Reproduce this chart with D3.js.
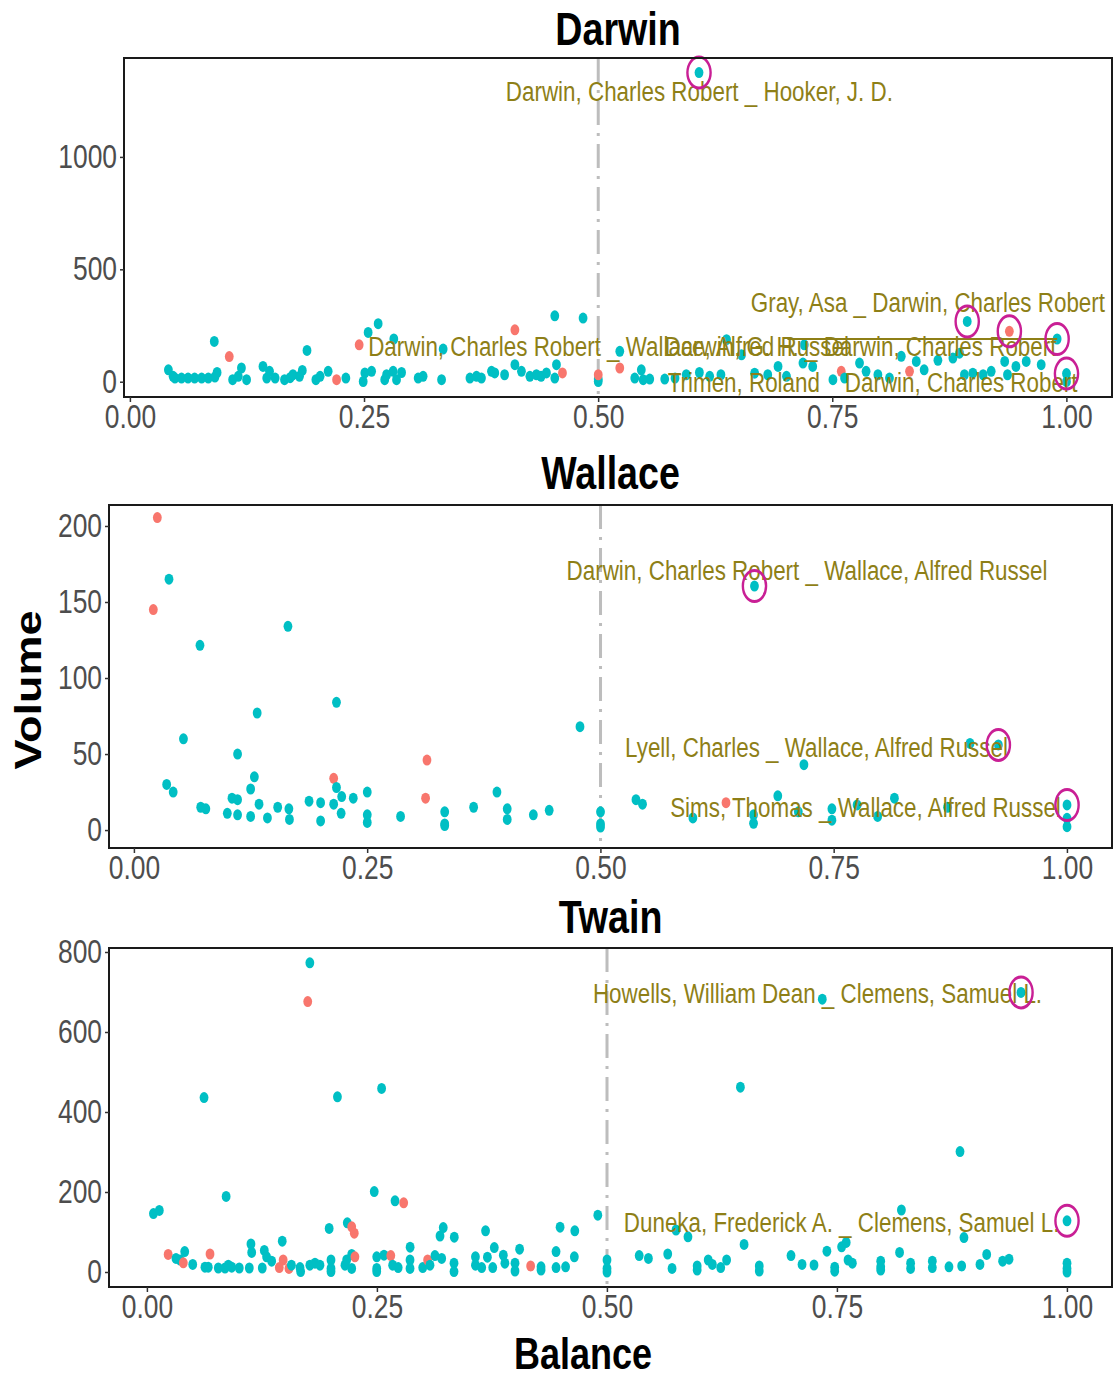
<!DOCTYPE html>
<html>
<head>
<meta charset="utf-8">
<script src="https://cdn.jsdelivr.net/npm/d3@7"></script>
<style>
  body { margin: 0; background: #ffffff; }
  svg { display: block; }
  text { font-family: "Liberation Sans", Arial, Helvetica, sans-serif; }
</style>
</head>
<body>
<svg id="chart" width="1117" height="1380"></svg>
<script>
// ---- data: [balance, volume, flag] (flag true = teal series, false = red series)
const darwinPoints = [
  [0.041,53,true],[0.046,24,true],[0.048,16,true],[0.055,16,true],[0.062,16,true],[0.069,16,true],
  [0.0765,16,true],[0.0836,16,true],[0.0907,21,true],[0.093,41,true],[0.090,179,true],[0.106,112,false],
  [0.1096,9,true],[0.1156,24,true],[0.119,61,true],[0.1245,9,true],[0.142,68,true],[0.146,16,true],
  [0.149,46,true],[0.155,16,true],[0.165,9,true],[0.171,18,true],[0.174,31,true],[0.181,24,true],
  [0.184,50,true],[0.189,139,true],[0.1985,9,true],[0.203,24,true],[0.2116,46,true],[0.2206,9,false],
  [0.2305,16,true],[0.2447,164,false],[0.249,1,true],[0.2508,39,true],[0.258,46,true],[0.2543,219,true],
  [0.265,258,true],[0.2817,190,true],[0.272,9,true],[0.274,31,true],[0.281,46,true],[0.2846,9,true],
  [0.29,41,true],[0.3077,16,true],[0.313,24,true],[0.3327,9,true],[0.3344,145,true],[0.363,16,true],
  [0.37,24,true],[0.3753,16,true],[0.386,46,true],[0.3895,39,true],[0.400,31,true],[0.411,76,true],
  [0.411,231,false],[0.418,46,true],[0.427,24,true],[0.434,31,true],[0.439,24,true],[0.4447,39,true],
  [0.4536,16,true],[0.4554,76,true],[0.4536,293,true],[0.4618,39,false],[0.4838,283,true],[0.5,1,true],
  [0.5,12,true],[0.5,31,false],[0.523,135,true],[0.523,61,false],[0.539,16,true],[0.546,53,true],
  [0.548,9,true],[0.555,12,true],[0.571,12,true],[0.582,16,true],[0.594,31,true],[0.6076,1375,true],
  [0.608,41,true],[0.619,24,true],[0.631,31,true],[0.637,187,true],[0.653,120,true],[0.667,38,true],
  [0.681,31,true],[0.692,68,true],[0.701,24,true],[0.7186,83,true],[0.72,164,true],[0.729,68,true],
  [0.7506,9,true],[0.7595,46,false],[0.763,16,true],[0.779,83,true],[0.786,46,true],[0.7986,31,true],
  [0.811,16,true],[0.8236,113,true],[0.8324,46,false],[0.8396,90,true],[0.848,53,true],[0.8627,95,true],
  [0.8787,105,true],[0.8858,127,true],[0.891,31,true],[0.894,268,true],[0.9,38,true],[0.911,31,true],
  [0.9196,46,true],[0.934,90,true],[0.937,31,true],[0.939,224,false],[0.946,68,true],[0.957,90,true],
  [0.973,76,true],[0.99,190,true],[1.0,36,true],[1.0,0,true]
];

const wallacePoints = [
  [0.025,205.5,false],[0.0375,165,true],[0.0207,145,false],[0.165,134,true],[0.0707,121.5,true],
  [0.217,84,true],[0.132,77,true],[0.053,60,true],[0.478,68,true],[0.111,50,true],[0.314,46,false],
  [0.214,34,false],[0.129,35,true],[0.035,30,true],[0.042,25,true],[0.125,27,true],[0.217,28,true],
  [0.389,25,true],[0.25,25,true],[0.3125,21,false],[0.2226,22,true],[0.235,21,true],[0.105,21,true],
  [0.111,20,true],[0.0715,15,true],[0.077,14,true],[0.134,17,true],[0.154,15,true],[0.166,14,true],
  [0.1876,19,true],[0.2,18,true],[0.214,17,true],[0.364,15,true],[0.4,14,true],[0.445,13,true],
  [0.333,12,true],[0.1,11,true],[0.111,10,true],[0.125,9,true],[0.143,8,true],[0.1666,7,true],
  [0.2,6,true],[0.222,11,true],[0.25,10,true],[0.25,5,true],[0.2857,9,true],[0.333,4,true],
  [0.333,3,true],[0.4,7,true],[0.428,10,true],[0.5,12,true],[0.5,4,true],[0.5,2,true],
  [0.665,160.5,true],[0.896,57,true],[0.9264,56,true],[0.718,43,true],[0.538,20,true],[0.545,17,true],
  [0.6345,18,false],[0.69,22.5,true],[0.599,8,true],[0.664,10,true],[0.664,4.4,true],[0.712,12,true],
  [0.748,14,true],[0.748,6.5,true],[0.775,16.5,true],[0.797,9,true],[0.815,21,true],[0.872,15,true],
  [1.0,16.5,true],[1.0,7.7,true],[1.0,2.2,true]
];

const twainPoints = [
  [0.177,773,true],[0.1747,676,false],[0.062,436,true],[0.207,438,true],[0.255,459,true],[0.086,189,true],
  [0.247,201,true],[0.2696,178,true],[0.279,173,false],[0.007,146,true],[0.0134,154,true],[0.49,142,true],
  [0.198,109,true],[0.2177,123,true],[0.2225,113,false],[0.2253,97,false],[0.322,111,true],[0.3185,90,true],
  [0.334,87,true],[0.368,103,true],[0.449,112,true],[0.465,103,true],[0.147,77,true],[0.113,70,true],
  [0.1138,49,true],[0.1275,54,true],[0.286,62,true],[0.3775,61,true],[0.405,57,true],[0.4446,51,true],
  [0.041,51,true],[0.023,44,false],[0.0685,45,false],[0.0315,34,true],[0.036,30,true],[0.0395,23,false],
  [0.0497,19,true],[0.063,12,true],[0.0666,12,true],[0.0775,10,true],[0.0848,10,true],[0.0884,17,true],
  [0.0921,12,true],[0.1003,10,true],[0.1112,10,true],[0.1253,10,true],[0.130,38,true],[0.1355,27,true],
  [0.148,30,false],[0.1438,11,false],[0.1543,9,false],[0.157,17,true],[0.1663,11,true],[0.167,1,true],
  [0.177,17,true],[0.1826,22,true],[0.188,17,true],[0.2,30,true],[0.2,9,true],[0.2,1,true],
  [0.2152,17,true],[0.217,30,true],[0.2225,44,true],[0.2225,9,true],[0.226,38,false],[0.2497,38,true],
  [0.2497,9,true],[0.2497,1,true],[0.2576,42,true],[0.265,41,false],[0.267,17,true],[0.273,11,true],
  [0.2859,30,true],[0.2859,9,true],[0.2997,11,true],[0.305,30,false],[0.3076,17,true],[0.313,41,true],
  [0.3203,34,true],[0.3337,22,true],[0.3337,1,true],[0.357,38,true],[0.357,17,true],[0.3638,11,true],
  [0.370,37,true],[0.3758,11,true],[0.3873,42,true],[0.389,22,true],[0.4,22,true],[0.4,2.5,true],
  [0.417,15,false],[0.4283,13,true],[0.4283,5,true],[0.4446,11,true],[0.455,13,true],[0.4645,38,true],
  [0.5,30,true],[0.5,9,true],[0.5,0,true],
  [0.95,699,true],[0.734,682,true],[0.645,462,true],[0.8837,301,true],[0.82,155,true],[1.0,128,true],
  [0.575,105,true],[0.588,88,true],[0.649,69,true],[0.888,86,true],[0.755,63,true],[0.76,74,true],
  [0.739,52,true],[0.818,49,true],[0.9127,44,true],[0.93,27,true],[0.937,32,true],[0.535,41,true],
  [0.545,34,true],[0.566,45,true],[0.5707,9,true],[0.598,15,true],[0.598,5,true],[0.61,30,true],
  [0.6145,19,true],[0.6236,11,true],[0.63,30,true],[0.6655,15,true],[0.6655,2.5,true],[0.7,41,true],
  [0.712,19,true],[0.725,17.5,true],[0.7475,12,true],[0.7475,2,true],[0.762,30,true],[0.7667,22,true],
  [0.7975,27,true],[0.7975,13,true],[0.7975,5,true],[0.83,22,true],[0.83,9,true],[0.8536,27,true],
  [0.8536,11,true],[0.8717,13,true],[0.8855,15,true],[0.9054,19,true],[1.0,22,true],[1.0,9,true],[1.0,0,true]
];

// highlighted letter pairs (ringed points)
const darwinRings  = [[0.6076,1375],[0.894,268],[0.939,224],[0.99,190],[1.0,36]];
const wallaceRings = [[0.665,160.5],[0.9264,56],[1.0,16.5]];
const twainRings   = [[0.95,699],[1.0,128]];

// pair labels, placed at [balance, volume] of the label centre
const darwinLabels = [
  ["Darwin, Charles Robert _ Hooker, J. D.", 0.608, 1293],
  ["Gray, Asa _ Darwin, Charles Robert", 0.852, 356],
  ["Darwin, Charles Robert _ Wallace, Alfred Russel", 0.511, 160],
  ["Darwin, G. H. _ Darwin, Charles Robert", 0.780, 160],
  ["Trimen, Roland _ Darwin, Charles Robert", 0.793, 0]
];
const wallaceLabels = [
  ["Darwin, Charles Robert _ Wallace, Alfred Russel", 0.7213, 171],
  ["Lyell, Charles _ Wallace, Alfred Russel", 0.7315, 55],
  ["Sims, Thomas _ Wallace, Alfred Russel", 0.784, 15]
];
const twainLabels = [
  ["Howells, William Dean _ Clemens, Samuel L.", 0.7288, 697],
  ["Duneka, Frederick A. _ Clemens, Samuel L.", 0.755, 125]
];
// leader segments from a label to its point: [b0, v0, b1, v1]
const darwinSegments = [[0.702, 190, 0.99, 190]];

const xTickValues = [0, 0.25, 0.5, 0.75, 1];
const darwinYTicks = [0, 500, 1000];
const wallaceYTicks = [0, 50, 100, 150, 200];
const twainYTicks = [0, 200, 400, 600, 800];

// ---- drawing
const SX = 0.8;                // the figure is drawn wide and compressed horizontally
const X = px => px / SX;
const TEAL = "#00BFC4", RED = "#F8766D", LABEL = "#8E7F17", RING = "#C91F95";

const svg = d3.select("#chart");
const root = svg.append("g").attr("transform", `scale(${SX},1)`);

const panels = [
  { title: "Darwin", pts: darwinPoints, rings: darwinRings, labels: darwinLabels, segs: darwinSegments,
    yTicks: darwinYTicks, box: {x0:124, x1:1112, y0:58, y1:397}, xDom: [-0.0064, 1.0486], yDom: [-68, 1440], titleY: 45 },
  { title: "Wallace", pts: wallacePoints, rings: wallaceRings, labels: wallaceLabels, segs: [],
    yTicks: wallaceYTicks, box: {x0:109, x1:1112, y0:505, y1:848}, xDom: [-0.0268, 1.0482], yDom: [-11.8, 213.8], titleY: 489 },
  { title: "Twain", pts: twainPoints, rings: twainRings, labels: twainLabels, segs: [],
    yTicks: twainYTicks, box: {x0:109, x1:1112, y0:948, y1:1287}, xDom: [-0.0413, 1.0489], yDom: [-37.5, 810], titleY: 933 }
];

panels.forEach(p => {
  const g = root.append("g");
  const x = d3.scaleLinear().domain(p.xDom).range([X(p.box.x0), X(p.box.x1)]);
  const y = d3.scaleLinear().domain(p.yDom).range([p.box.y1, p.box.y0]);

  // reference line at balance 0.5
  g.append("line")
    .attr("x1", x(0.5)).attr("x2", x(0.5))
    .attr("y1", p.box.y0).attr("y2", p.box.y1)
    .attr("stroke", "#BDBDBD").attr("stroke-width", 3)
    .attr("stroke-dasharray", "24,8,3,8")
    .attr("vector-effect", "non-scaling-stroke");

  // points
  g.append("g").selectAll("circle").data(p.pts).join("circle")
    .attr("cx", d => x(d[0])).attr("cy", d => y(d[1]))
    .attr("r", 5.5)
    .attr("fill", d => d[2] ? TEAL : RED);

  // leader segments
  g.append("g").selectAll("line").data(p.segs).join("line")
    .attr("x1", d => x(d[0])).attr("y1", d => y(d[1]))
    .attr("x2", d => x(d[2])).attr("y2", d => y(d[3]))
    .attr("stroke", LABEL).attr("stroke-width", 2)
    .attr("vector-effect", "non-scaling-stroke");

  // labels
  g.append("g").selectAll("text").data(p.labels).join("text")
    .attr("x", d => x(d[1])).attr("y", d => y(d[2]))
    .attr("dy", "0.36em")
    .attr("text-anchor", "middle")
    .attr("font-size", 28)
    .attr("fill", LABEL)
    .text(d => d[0]);

  // rings around highlighted points
  g.append("g").selectAll("ellipse").data(p.rings).join("ellipse")
    .attr("cx", d => x(d[0])).attr("cy", d => y(d[1]))
    .attr("rx", 14.5).attr("ry", 15.5)
    .attr("fill", "none").attr("stroke", RING).attr("stroke-width", 3);

  // panel border
  g.append("rect")
    .attr("x", X(p.box.x0)).attr("y", p.box.y0)
    .attr("width", X(p.box.x1) - X(p.box.x0)).attr("height", p.box.y1 - p.box.y0)
    .attr("fill", "none").attr("stroke", "#1a1a1a").attr("stroke-width", 2)
    .attr("vector-effect", "non-scaling-stroke");

  // axes
  const xAxis = g.append("g").attr("transform", `translate(0,${p.box.y1})`)
    .call(d3.axisBottom(x).tickValues(xTickValues).tickFormat(d3.format(".2f")).tickSize(5).tickPadding(3));
  const yAxis = g.append("g").attr("transform", `translate(${X(p.box.x0)},0)`)
    .call(d3.axisLeft(y).tickValues(p.yTicks).tickFormat(d3.format("d")).tickSize(X(4)).tickPadding(X(3)));
  [xAxis, yAxis].forEach(a => {
    a.select(".domain").remove();
    a.selectAll(".tick line").attr("stroke", "#333333").attr("stroke-width", 1.5)
      .attr("vector-effect", "non-scaling-stroke");
    a.selectAll(".tick text").attr("fill", "#4D4D4D").attr("font-size", 33)
      .attr("font-family", "Liberation Sans, Arial, sans-serif");
  });

  // panel title
  root.append("text")
    .attr("x", X((p.box.x0 + p.box.x1) / 2)).attr("y", p.titleY)
    .attr("text-anchor", "middle").attr("font-weight", "bold").attr("font-size", 47)
    .attr("fill", "#000").text(p.title);
});

// shared axis titles
root.append("text")
  .attr("transform", `translate(${X(41)},690) rotate(-90)`)
  .attr("text-anchor", "middle").attr("font-weight", "bold").attr("font-size", 45)
  .attr("fill", "#000").text("Volume");
root.append("text")
  .attr("x", X(583)).attr("y", 1369)
  .attr("text-anchor", "middle").attr("font-weight", "bold").attr("font-size", 45)
  .attr("fill", "#000").text("Balance");
</script>
</body>
</html>
